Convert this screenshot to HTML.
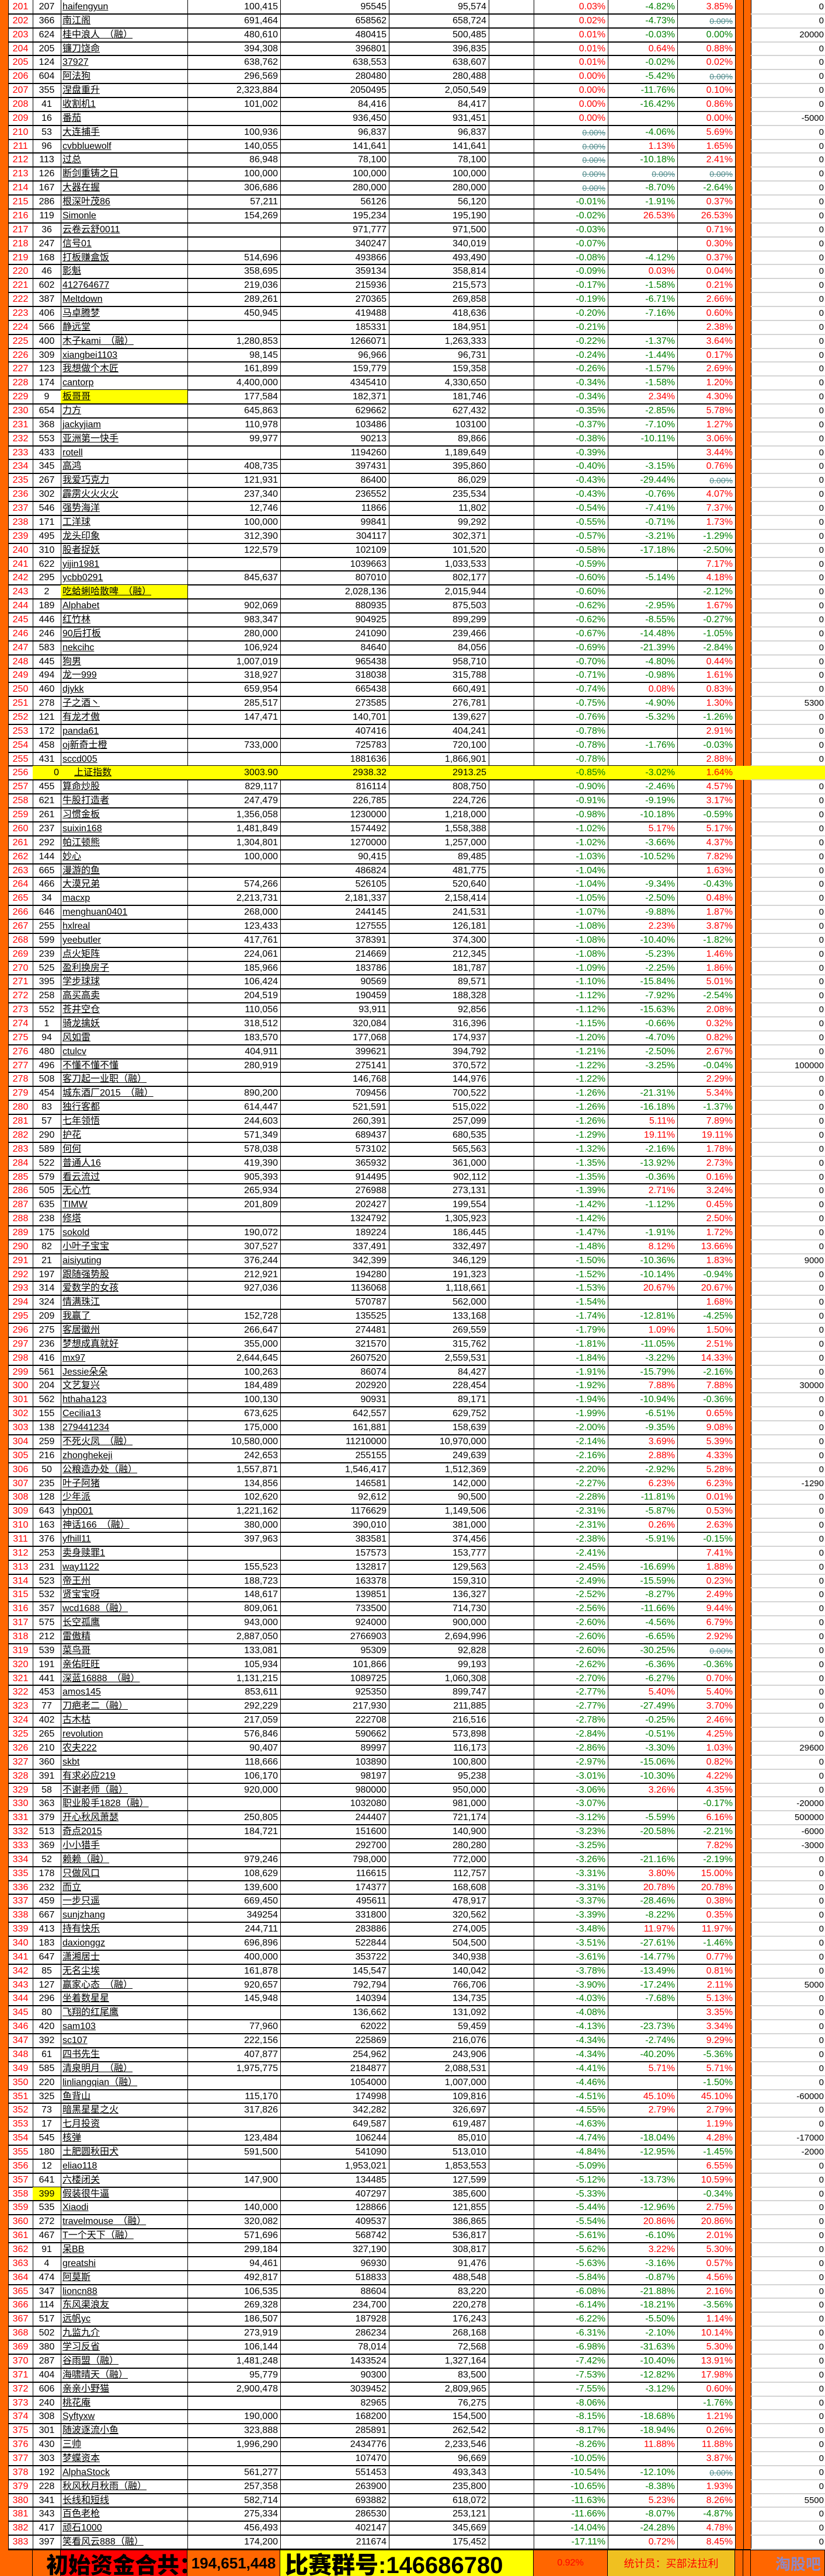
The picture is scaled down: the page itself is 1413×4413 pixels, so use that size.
<!DOCTYPE html>
<html><head><meta charset="utf-8"><style>
html,body{margin:0;padding:0;background:#fff;}
#wrap{position:relative;width:1413px;height:4413px;overflow:hidden;font-family:"Liberation Sans","Noto Sans CJK SC",sans-serif;font-size:16px;color:#000;}
.row{position:absolute;left:0;width:1413px;height:24px;}
.c{position:absolute;top:0;height:100%;line-height:24px;white-space:nowrap;overflow:hidden;box-sizing:border-box;}
.r{text-align:right;padding-right:4px;}
.ln{position:absolute;left:14px;width:1245px;height:2px;background:#000;}
.ln2{position:absolute;left:1286px;width:127px;height:2px;background:#d4d4d4;}
.vl{position:absolute;top:0;width:1px;height:4367px;background:#000;}
.red{color:#f00}.grn{color:#008000}
.st{color:#4f8a8a;text-decoration:line-through;font-size:14px}
.nm{text-decoration:underline;padding-left:3px}
.ft{position:absolute;top:4367px;height:46px;box-sizing:border-box;border-right:1px solid #000;border-top:2px solid #000;display:flex;align-items:center;justify-content:center;font-weight:bold;white-space:nowrap;}
</style></head><body>
<div id="wrap">
<div style="position:absolute;left:0;top:0;width:14px;height:4413px;background:#ff6600"></div>
<div style="position:absolute;left:1259px;top:0;width:27px;height:4367px;background:#ff6600"></div>
<div class="ft" style="left:14px;width:42px;background:#ff6600"></div>
<div class="ft" style="left:56px;width:48px;background:#ff6600"></div>
<div class="ft" style="left:104px;width:217px;background:#f00;font-size:38px;font-family:'Noto Sans CJK SC',sans-serif;font-weight:900">初始资金合共：</div>
<div class="ft" style="left:321px;width:159px;background:#ff6600;font-size:26px">194,651,448</div>
<div class="ft" style="left:480px;width:434px;background:#ff0;font-size:40px;justify-content:flex-start;padding-left:8px;font-family:'Liberation Sans','Noto Sans CJK SC',sans-serif;font-weight:900">比赛群号:146686780</div>
<div class="ft" style="left:914px;width:127px;background:#ff6600;font-size:16px;color:#f00;font-weight:normal">0.92%</div>
<div class="ft" style="left:1041px;width:218px;background:#f0c020;font-size:18px;color:#f00;font-weight:normal">统计员：买部法拉利</div>
<div class="ft" style="left:1259px;width:14px;background:#ff6600"></div>
<div class="ft" style="left:1273px;width:13px;background:#ff6600"></div>
<div class="ft" style="left:1286px;width:127px;background:#ff6600;font-size:26px;color:#8e88c8;justify-content:flex-end;padding-right:6px">淘股吧</div>
</div>
<script>
const rowsData = [
"207|haifengyun|100,415|95545|95,574|0.03|-4.82|3.85|0",
"366|南江阁|691,464|658562|658,724|0.02|-4.73|s|0",
"624|桂中浪人　（融）|480,610|480415|500,485|0.01|-0.03|g0.00|20000",
"205|镰刀饶命|394,308|396801|396,835|0.01|0.64|0.88|0",
"124|37927|638,762|638,553|638,607|0.01|-0.02|0.02|0",
"604|阿法狗|296,569|280480|280,488|0.00|-5.42|s|0",
"355|涅盘重升|2,323,884|2050495|2,050,549|0.00|-11.76|0.10|0",
"41|收割机1|101,002|84,416|84,417|0.00|-16.42|0.86|0",
"16|番茄||936,450|931,451|0.00||0.00|-5000",
"53|大连捕手|100,936|96,837|96,837|s|-4.06|5.69|0",
"96|cvbbluewolf|140,055|141,641|141,641|s|1.13|1.65|0",
"113|过总|86,948|78,100|78,100|s|-10.18|2.41|0",
"126|断剑重铸之日|100,000|100,000|100,000|s|s|s|0",
"167|大器在握|306,686|280,000|280,000|s|-8.70|-2.64|0",
"286|根深叶茂86|57,211|56126|56,120|-0.01|-1.91|0.37|0",
"119|Simonle|154,269|195,234|195,190|-0.02|26.53|26.53|0",
"36|云卷云舒0011||971,777|971,500|-0.03||0.71|0",
"247|信号01||340247|340,019|-0.07||0.30|0",
"168|打板赚盒饭|514,696|493866|493,490|-0.08|-4.12|0.37|0",
"46|影魁|358,695|359134|358,814|-0.09|0.03|0.04|0",
"602|412764677|219,036|215936|215,573|-0.17|-1.58|0.21|0",
"387|Meltdown|289,261|270365|269,858|-0.19|-6.71|2.66|0",
"406|马卓腾梦|450,945|419488|418,636|-0.20|-7.16|0.60|0",
"566|静远堂||185331|184,951|-0.21||2.38|0",
"400|木子kami　（融）|1,280,853|1266071|1,263,333|-0.22|-1.37|3.64|0",
"309|xiangbei1103|98,145|96,966|96,731|-0.24|-1.44|0.17|0",
"123|我想做个木匠|161,899|159,779|159,358|-0.26|-1.57|2.69|0",
"174|cantorp|4,400,000|4345410|4,330,650|-0.34|-1.58|1.20|0",
"9|*板哥哥|177,584|182,371|181,746|-0.34|2.34|4.30|0",
"654|力方|645,863|629662|627,432|-0.35|-2.85|5.78|0",
"368|jackyjiam|110,978|103486|103100|-0.37|-7.10|1.27|0",
"553|亚洲第一快手|99,977|90213|89,866|-0.38|-10.11|3.06|0",
"433|rotell||1194260|1,189,649|-0.39||3.44|0",
"345|高鸿|408,735|397431|395,860|-0.40|-3.15|0.76|0",
"267|我爱巧克力|121,931|86400|86,029|-0.43|-29.44|s|0",
"302|霹雳火火火火|237,340|236552|235,534|-0.43|-0.76|4.07|0",
"546|强势海洋|12,746|11866|11,802|-0.54|-7.41|7.37|0",
"171|工洋球|100,000|99841|99,292|-0.55|-0.71|1.73|0",
"495|龙头印象|312,390|304117|302,371|-0.57|-3.21|-1.29|0",
"310|股者捉妖|122,579|102109|101,520|-0.58|-17.18|-2.50|0",
"622|yijin1981||1039663|1,033,533|-0.59||7.17|0",
"295|ycbb0291|845,637|807010|802,177|-0.60|-5.14|4.18|0",
"2|*吃蛤蜊哈散啤　（融）||2,028,136|2,015,944|-0.60||-2.12|0",
"189|Alphabet|902,069|880935|875,503|-0.62|-2.95|1.67|0",
"446|红竹林|983,347|904925|899,299|-0.62|-8.55|-0.27|0",
"246|90后打板|280,000|241090|239,466|-0.67|-14.48|-1.05|0",
"583|nekcihc|106,924|84640|84,056|-0.69|-21.39|-2.84|0",
"445|狗男|1,007,019|965438|958,710|-0.70|-4.80|0.44|0",
"494|龙一999|318,927|318038|315,788|-0.71|-0.98|1.61|0",
"460|djykk|659,954|665438|660,491|-0.74|0.08|0.83|0",
"278|子之酒丶|285,517|273585|276,781|-0.75|-4.90|1.30|5300",
"121|有龙才傲|147,471|140,701|139,627|-0.76|-5.32|-1.26|0",
"172|panda61||407416|404,241|-0.78||2.91|0",
"458|oj新奇士橙|733,000|725783|720,100|-0.78|-1.76|-0.03|0",
"431|sccd005||1881636|1,866,901|-0.78||2.88|0",
"0|#上证指数|3003.90|2938.32|2913.25|-0.85|-3.02|1.64|",
"455|算命炒股|829,117|816114|808,750|-0.90|-2.46|4.57|0",
"621|牛股打造者|247,479|226,785|224,726|-0.91|-9.19|3.17|0",
"261|习惯金板|1,356,058|1230000|1,218,000|-0.98|-10.18|-0.59|0",
"237|suixin168|1,481,849|1574492|1,558,388|-1.02|5.17|5.17|0",
"292|帕江顿熊|1,304,801|1270000|1,257,000|-1.02|-3.66|4.37|0",
"144|妙心|100,000|90,415|89,485|-1.03|-10.52|7.82|0",
"665|漫游的鱼||486824|481,775|-1.04||1.63|0",
"466|大漠兄弟|574,266|526105|520,640|-1.04|-9.34|-0.43|0",
"34|macxp|2,213,731|2,181,337|2,158,414|-1.05|-2.50|0.48|0",
"646|menghuan0401|268,000|244145|241,531|-1.07|-9.88|1.87|0",
"255|hxlreal|123,433|127555|126,181|-1.08|2.23|3.87|0",
"599|yeebutler|417,761|378391|374,300|-1.08|-10.40|-1.82|0",
"239|点火矩阵|224,061|214669|212,345|-1.08|-5.23|1.46|0",
"525|盈利换房子|185,966|183786|181,787|-1.09|-2.25|1.86|0",
"395|学步球球|106,424|90569|89,571|-1.10|-15.84|5.01|0",
"258|高买高卖|204,519|190459|188,328|-1.12|-7.92|-2.54|0",
"552|苍井空仓|110,056|93,911|92,856|-1.12|-15.63|2.08|0",
"1|骑龙擒妖|318,512|320,084|316,396|-1.15|-0.66|0.32|0",
"94|风如雷|183,570|177,068|174,937|-1.20|-4.70|0.82|0",
"480|ctulcv|404,911|399621|394,792|-1.21|-2.50|2.67|0",
"496|不懂不懂不懂|280,919|275141|370,572|-1.22|-3.25|-0.04|100000",
"508|客刀起一业职（融）||146,768|144,976|-1.22||2.29|0",
"454|城东酒厂2015　（融）|890,200|709456|700,522|-1.26|-21.31|5.34|0",
"83|独行客都|614,447|521,591|515,022|-1.26|-16.18|-1.37|0",
"57|七年领悟|244,603|260,391|257,099|-1.26|5.11|7.89|0",
"290|护花|571,349|689437|680,535|-1.29|19.11|19.11|0",
"589|何何|578,038|573102|565,563|-1.32|-2.16|1.78|0",
"522|普通人16|419,390|365932|361,000|-1.35|-13.92|2.73|0",
"579|看云流过|905,393|914495|902,112|-1.35|-0.36|0.16|0",
"505|无心竹|265,934|276988|273,131|-1.39|2.71|3.24|0",
"635|TIMW|201,809|202427|199,554|-1.42|-1.12|0.45|0",
"238|修塔||1324792|1,305,923|-1.42||2.50|0",
"175|sokold|190,072|189224|186,445|-1.47|-1.91|1.72|0",
"82|小叶子宝宝|307,527|337,491|332,497|-1.48|8.12|13.66|0",
"21|aisiyuting|376,244|342,399|346,129|-1.50|-10.36|1.83|9000",
"197|跟随强势股|212,921|194280|191,323|-1.52|-10.14|-0.94|0",
"314|爱数学的女孩|927,036|1136068|1,118,661|-1.53|20.67|20.67|0",
"324|情满珠江||570787|562,000|-1.54||1.68|0",
"209|我赢了|152,728|135525|133,168|-1.74|-12.81|-4.25|0",
"275|客居徽州|266,647|274481|269,559|-1.79|1.09|1.50|0",
"236|梦想成真就好|355,000|321570|315,762|-1.81|-11.05|2.51|0",
"416|mx97|2,644,645|2607520|2,559,531|-1.84|-3.22|14.33|0",
"561|Jessie朵朵|100,263|86074|84,427|-1.91|-15.79|-2.16|0",
"204|文艺复兴|184,489|202920|228,454|-1.92|7.88|7.88|30000",
"562|hthaha123|100,130|90931|89,171|-1.94|-10.94|-0.36|0",
"155|Cecilia13|673,625|642,557|629,752|-1.99|-6.51|0.65|0",
"138|279441234|175,000|161,881|158,639|-2.00|-9.35|9.08|0",
"259|不死火凤　（融）|10,580,000|11210000|10,970,000|-2.14|3.69|5.39|0",
"216|zhonghekeji|242,653|255155|249,639|-2.16|2.88|4.33|0",
"50|公粮造办处（融）|1,557,871|1,546,417|1,512,369|-2.20|-2.92|5.28|0",
"235|叶子阿猪|134,856|146581|142,000|-2.27|6.23|6.23|-1290",
"128|少年派|102,620|92,612|90,500|-2.28|-11.81|0.01|0",
"643|yhp001|1,221,162|1176629|1,149,506|-2.31|-5.87|0.53|0",
"163|神话166　（融）|380,000|390,010|381,000|-2.31|0.26|2.63|0",
"376|yfhill11|397,963|383581|374,456|-2.38|-5.91|-0.15|0",
"253|卖身赎罪1||157573|153,777|-2.41||7.41|0",
"231|way1122|155,523|132817|129,563|-2.45|-16.69|1.88|0",
"523|帝王州|188,723|163378|159,310|-2.49|-15.59|0.23|0",
"532|贤宝宝呀|148,617|139851|136,327|-2.52|-8.27|2.49|0",
"357|wcd1688（融）|809,061|733500|714,730|-2.56|-11.66|9.44|0",
"575|长空孤鹰|943,000|924000|900,000|-2.60|-4.56|6.79|0",
"212|雷傲精|2,887,050|2766903|2,694,996|-2.60|-6.65|2.92|0",
"539|菜鸟哥|133,081|95309|92,828|-2.60|-30.25|s|0",
"191|亲佑旺旺|105,934|101,866|99,193|-2.62|-6.36|-0.36|0",
"441|深蓝16888　（融）|1,131,215|1089725|1,060,308|-2.70|-6.27|0.70|0",
"453|amos145|853,611|925350|899,747|-2.77|5.40|5.40|0",
"77|刀疤老二（融）|292,229|217,930|211,885|-2.77|-27.49|3.70|0",
"402|古木枯|217,059|222708|216,516|-2.78|-0.25|2.46|0",
"265|revolution|576,846|590662|573,898|-2.84|-0.51|4.25|0",
"210|农夫222|90,407|89997|116,173|-2.86|-3.30|1.03|29600",
"360|skbt|118,666|103890|100,800|-2.97|-15.06|0.82|0",
"391|有求必应219|106,170|98197|95,238|-3.01|-10.30|4.22|0",
"58|不谢老师（融）|920,000|980000|950,000|-3.06|3.26|4.35|0",
"363|职业股手1828（融）||1032080|981,000|-3.07||-0.17|-20000",
"379|开心秋风萧瑟|250,805|244407|721,174|-3.12|-5.59|6.16|500000",
"513|奇点2015|184,721|151600|140,900|-3.23|-20.58|-2.21|-6000",
"369|小小猎手||292700|280,280|-3.25||7.82|-3000",
"52|赖赖（融）|979,246|798,000|772,000|-3.26|-21.16|-2.19|0",
"178|只做风口|108,629|116615|112,757|-3.31|3.80|15.00|0",
"232|而立|139,600|174377|168,608|-3.31|20.78|20.78|0",
"459|一步只遥|669,450|495611|478,917|-3.37|-28.46|0.38|0",
"667|sunjzhang|349254|331800|320,562|-3.39|-8.22|0.35|0",
"413|持有快乐|244,711|283886|274,005|-3.48|11.97|11.97|0",
"183|daxionggz|696,896|522844|504,500|-3.51|-27.61|-1.46|0",
"647|潇湘居士|400,000|353722|340,938|-3.61|-14.77|0.77|0",
"85|无名尘埃|161,878|145,547|140,042|-3.78|-13.49|0.81|0",
"127|赢家心态　（融）|920,657|792,794|766,706|-3.90|-17.24|2.11|5000",
"296|坐着数星星|145,948|140394|134,735|-4.03|-7.68|5.13|0",
"80|飞翔的红尾鹰||136,662|131,092|-4.08||3.35|0",
"420|sam103|77,960|62022|59,459|-4.13|-23.73|3.34|0",
"392|sc107|222,156|225869|216,076|-4.34|-2.74|9.29|0",
"61|四书先生|407,877|254,962|243,906|-4.34|-40.20|-5.36|0",
"585|清泉明月　（融）|1,975,775|2184877|2,088,531|-4.41|5.71|5.71|0",
"220|linliangqian（融）||1054000|1,007,000|-4.46||-1.50|0",
"325|鱼背山|115,170|174998|109,816|-4.51|45.10|45.10|-60000",
"73|暗黑星星之火|317,826|342,282|326,697|-4.55|2.79|2.79|0",
"17|七月投资||649,587|619,487|-4.63||1.19|0",
"545|核弹|123,484|106244|85,010|-4.74|-18.04|4.28|-17000",
"180|土肥圆秋田犬|591,500|541090|513,010|-4.84|-12.95|-1.45|-2000",
"12|eliao118||1,953,021|1,853,553|-5.09||6.55|0",
"641|六楼闭关|147,900|134485|127,599|-5.12|-13.73|10.59|0",
"^399|假装很牛逼||407297|385,600|-5.33||-0.34|0",
"535|Xiaodi|140,000|128866|121,855|-5.44|-12.96|2.75|0",
"272|travelmouse　（融）|320,082|409537|386,865|-5.54|20.86|20.86|0",
"467|T一个天下（融）|571,696|568742|536,817|-5.61|-6.10|2.01|0",
"91|呆BB|299,184|327,190|308,817|-5.62|3.22|5.30|0",
"4|greatshi|94,461|96930|91,476|-5.63|-3.16|0.57|0",
"474|阿莫斯|492,817|518833|488,548|-5.84|-0.87|4.56|0",
"347|lioncn88|106,535|88604|83,220|-6.08|-21.88|2.16|0",
"114|东风渠浪友|269,328|234,700|220,278|-6.14|-18.21|-3.56|0",
"517|远帆yc|186,507|187928|176,243|-6.22|-5.50|1.14|0",
"502|九监九介|273,919|286234|268,168|-6.31|-2.10|10.14|0",
"380|学习反省|106,144|78,014|72,568|-6.98|-31.63|5.30|0",
"287|谷雨盟（融）|1,481,248|1433524|1,327,164|-7.42|-10.40|13.91|0",
"404|海啸晴天（融）|95,779|90300|83,500|-7.53|-12.82|17.98|0",
"606|亲亲小野猫|2,900,478|3039452|2,809,965|-7.55|-3.12|0.60|0",
"240|桃花庵||82965|76,275|-8.06||-1.76|0",
"308|Syftyxw|190,000|168200|154,500|-8.15|-18.68|1.21|0",
"301|随波逐流小鱼|323,888|285891|262,542|-8.17|-18.94|0.26|0",
"430|三帅|1,996,290|2434776|2,233,546|-8.26|11.88|11.88|0",
"303|梦蝶资本||107470|96,669|-10.05||3.87|0",
"192|AlphaStock|561,277|551453|493,343|-10.54|-12.10|s|0",
"228|秋风秋月秋雨（融）|257,358|263900|235,800|-10.65|-8.38|1.93|0",
"341|长线和短线|582,714|693882|618,072|-11.63|5.23|8.26|5500",
"343|百色老枪|275,334|286530|253,121|-11.66|-8.07|-4.87|0",
"417|顽石1000|456,493|402147|345,669|-14.04|-24.28|4.78|0",
"397|笑看风云888（融）|174,200|211674|175,452|-17.11|0.72|8.45|0"
];
const firstRank = 201;
const rowH = 4367 / 183;
const wrap = document.getElementById('wrap');
const vlines = [14,56,104,321,480,666,837,914,1041,1160,1259,1273,1286];
vlines.forEach(function(x){
  const v = document.createElement('div');
  v.className = 'vl';
  v.style.left = x + 'px';
  
  
  wrap.appendChild(v);
});
function pctHTML(v){
  if (v === '') return '';
  if (v === 's') return '<span class="st">0.00%</span>';
  if (v[0] === 'g') return '<span class="grn">' + v.slice(1) + '%</span>';
  return '<span class="' + (v[0] === '-' ? 'grn' : 'red') + '">' + v + '%</span>';
}
function cell(row, x, w, cls, html, name, bg){
  const c = document.createElement('div');
  c.className = 'c ' + cls;
  c.style.left = x + 'px';
  c.style.width = w + 'px';
  if (bg) c.style.background = bg;
  c.innerHTML = html;
  
  
  row.appendChild(c);
}
rowsData.forEach(function(line, i){
  const f = line.split('|');
  const top = i * rowH;
  const row = document.createElement('div');
  row.className = 'row';
  row.style.top = top + 'px';
  row.style.height = rowH + 'px';
  
  
  let id = f[0], name = f[1];
  let idBg = null, nameBg = null, index = false;
  if (id[0] === '^') { id = id.slice(1); idBg = '#ff0'; }
  if (name[0] === '*') { name = name.slice(1); nameBg = '#ff0'; }
  if (name[0] === '#') { name = name.slice(1); index = true; }
  if (index) {
    const y = document.createElement('div');
    y.style.cssText = 'position:absolute;left:56px;top:0;width:1357px;height:100%;background:#ff0';
    
    
    row.appendChild(y);
  }
  cell(row, 14, 42, 'red', String(firstRank + i), 'rank-cell', null);
  row.lastChild.style.textAlign = 'center';
  cell(row, 56, 48, '', id, 'id-cell', idBg);
  row.lastChild.style.textAlign = index ? 'right' : 'center';
  if (index) row.lastChild.style.paddingRight = '3px';
  cell(row, 104, 217, '', '<span class="nm">' + name + '</span>', 'name-cell', nameBg);
  if (index) row.lastChild.style.paddingLeft = '20px';
  cell(row, 321, 159, 'r', f[2], 'initial-value-cell', null);
  cell(row, 480, 186, 'r', f[3], 'previous-value-cell', null);
  cell(row, 666, 171, 'r', f[4], 'current-value-cell', null);
  cell(row, 914, 127, 'r', pctHTML(f[5]), 'daily-change-cell', null);
  cell(row, 1041, 119, 'r', pctHTML(f[6]), 'total-change-cell', null);
  cell(row, 1160, 99, 'r', pctHTML(f[7]), 'period-change-cell', null);
  cell(row, 1286, 127, 'r', f[8], 'capital-flow-cell', null);
  row.lastChild.style.fontSize = '15px';
  row.lastChild.style.paddingRight = '2px';
  wrap.appendChild(row);
  const ln = document.createElement('div');
  ln.className = 'ln';
  ln.style.top = (top + rowH - 1) + 'px';
  
  
  wrap.appendChild(ln);
  const ln2 = document.createElement('div');
  ln2.className = 'ln2';
  ln2.style.top = (top + rowH - 1) + 'px';
  
  
  wrap.appendChild(ln2);
});
</script>
</body></html>
